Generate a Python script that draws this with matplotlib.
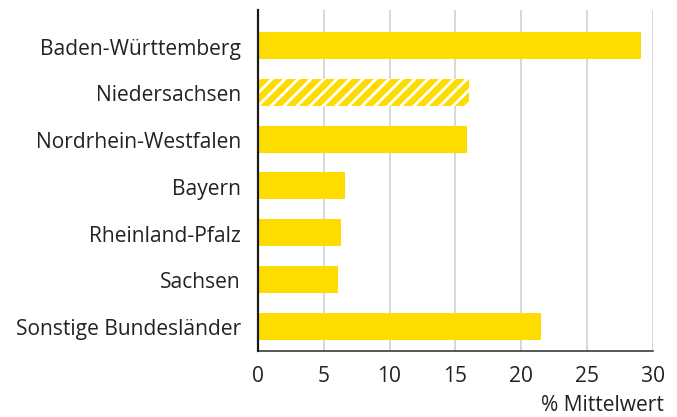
import numpy as np
import matplotlib.pyplot as plt

plt.rcParams['font.family'] = ['Open Sans', 'DejaVu Sans']
plt.rcParams['hatch.linewidth'] = 2.6

DPI = 78
states = ['Baden-Württemberg', 'Niedersachsen', 'Nordrhein-Westfalen', 'Bayern',
          'Rheinland-Pfalz', 'Sachsen', 'Sonstige Bundesländer']
values = [29.1, 16.0, 15.9, 6.6, 6.3, 6.1, 21.5]
hatched = [False, True, False, False, False, False, False]
xticks = [0, 5, 10, 15, 20, 25, 30]

yellow = '#FFDC00'
text_col = '#222222'
fs = 21 * 72 / DPI

fig = plt.figure(figsize=(677 / DPI, 418 / DPI), dpi=DPI)
ax = fig.add_axes([258 / 677, 1 - 352 / 418, (652.7 - 258) / 677, (352 - 11) / 418])

pos = np.arange(len(states))
for p, v, h in zip(pos, values, hatched):
    if h:
        ax.barh(p, v, height=0.575, color=yellow, edgecolor='white', linewidth=0,
                hatch='//', zorder=2)
    else:
        ax.barh(p, v, height=0.575, color=yellow, linewidth=0, zorder=2)

ax.set_ylim(6.53, -0.76)
ax.set_xlim(0, 30)
ax.set_yticks(pos)
ax.set_yticklabels(states)
ax.set_xticks(xticks)
ax.set_xticklabels([str(t) for t in xticks])
ax.tick_params(axis='both', length=0, labelsize=fs, colors=text_col)
ax.tick_params(axis='y', pad=17 * 72 / DPI)
ax.tick_params(axis='x', pad=14 * 72 / DPI)

ax.grid(axis='x', color='#cccccc', linewidth=1.5 * 72 / DPI, zorder=0)
ax.set_axisbelow(True)
for s in ['top', 'right']:
    ax.spines[s].set_visible(False)
ax.spines['left'].set_color('#1a1a1a')
ax.spines['left'].set_linewidth(2.2 * 72 / DPI)
ax.spines['bottom'].set_color('#333333')
ax.spines['bottom'].set_linewidth(1.6 * 72 / DPI)
ax.spines['left'].set_zorder(3)

fig.text(664 / 677, 1 - 406 / 418, '% Mittelwert', ha='right', va='center',
         fontsize=fs, color=text_col)

fig.savefig('out.png', dpi=DPI)
